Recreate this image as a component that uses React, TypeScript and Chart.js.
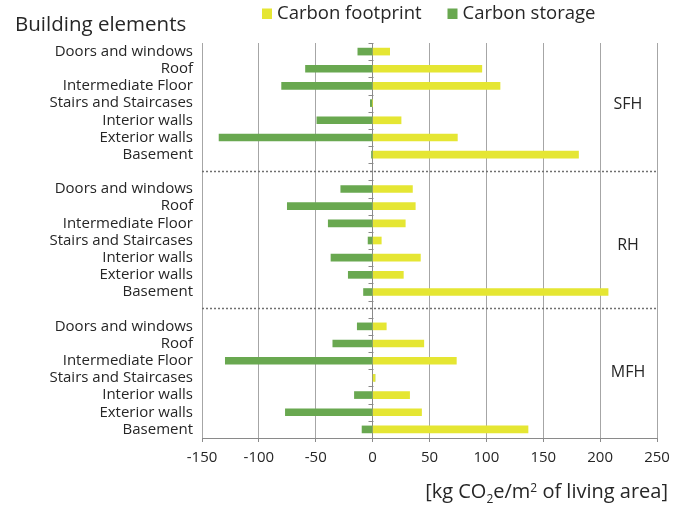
import React, { useEffect, useRef } from "react";
import { Chart, registerables } from "chart.js";

Chart.register(...registerables);

// ---- data ----
const elements = [
  "Doors and windows",
  "Roof",
  "Intermediate Floor",
  "Stairs and Staircases",
  "Interior walls",
  "Exterior walls",
  "Basement",
];
const groupNames = ["SFH", "RH", "MFH"];

const sfhFootprint = [15, 96, 112, 0, 25, 74.5, 181];
const sfhStorage = [-13, -59, -80, -2, -49, -135, -1];
const rhFootprint = [35, 37.5, 28.7, 7.6, 42, 27, 207];
const rhStorage = [-28, -75, -39, -4, -36.6, -21.4, -8];
const mfhFootprint = [12, 45, 73.6, 2, 32.5, 43, 136.6];
const mfhStorage = [-13.5, -35, -129.5, 0, -16, -76.7, -9.3];

const footprintGroups = [sfhFootprint, rhFootprint, mfhFootprint];
const storageGroups = [sfhStorage, rhStorage, mfhStorage];

const xMin = -150;
const xMax = 250;
const xStep = 50;

const legendLabels = ["Carbon footprint", "Carbon storage"];
const yTitle = "Building elements";
const xTitleParts = [
  { t: "[kg CO", k: "n" },
  { t: "2", k: "sub" },
  { t: "e/m", k: "n" },
  { t: "2", k: "sup" },
  { t: " of living area]", k: "n" },
];

// ---- build category table (a blank slot between groups) ----
const categories: string[] = [];
const footprint: (number | null)[] = [];
const storage: (number | null)[] = [];
const separatorIdx: number[] = [];
const groupMid: number[] = [];
groupNames.forEach((g, gi) => {
  const start = categories.length;
  elements.forEach((e, i) => {
    categories.push(e);
    footprint.push(footprintGroups[gi][i]);
    storage.push(storageGroups[gi][i]);
  });
  groupMid.push(start + (elements.length - 1) / 2);
  if (gi < groupNames.length - 1) {
    separatorIdx.push(categories.length);
    categories.push("");
    footprint.push(null);
    storage.push(null);
  }
});
const groupLabelShift = [0.1, 0.3, -0.3];

const YELLOW = "#e5e633";
const GREEN = "#69a850";
const FONT = "'Open Sans', 'DejaVu Sans', sans-serif";
const TEXT = "#262626";

const decoPlugin = {
  id: "deco",
  beforeDatasetsDraw(chart: any) {
    const { ctx, scales } = chart;
    const x = scales.x;
    const y = scales.y;
    const x0 = Math.round(x.getPixelForValue(0)) + 0.5;
    ctx.save();
    ctx.strokeStyle = "#8a8a8a";
    ctx.lineWidth = 1;
    const n = categories.length;
    for (let i = 0; i <= n; i++) {
      const py = Math.round(y.getPixelForValue(i - 0.5)) + 0.5;
      ctx.beginPath();
      ctx.moveTo(x0 - 5, py);
      ctx.lineTo(x0, py);
      ctx.stroke();
    }
    ctx.restore();
  },
  afterDraw(chart: any) {
    const { ctx, chartArea, scales } = chart;
    const y = scales.y;
    const { left, right } = chartArea;
    ctx.save();
    // separators
    ctx.strokeStyle = "#707070";
    ctx.lineWidth = 1.4;
    ctx.setLineDash([2, 2]);
    separatorIdx.forEach((i) => {
      const py = Math.round(y.getPixelForValue(i) - 1) + 0.5;
      ctx.beginPath();
      ctx.moveTo(left, py);
      ctx.lineTo(right, py);
      ctx.stroke();
    });
    ctx.setLineDash([]);

    // group labels
    ctx.fillStyle = TEXT;
    ctx.font = `16px ${FONT}`;
    ctx.textAlign = "center";
    ctx.textBaseline = "middle";
    groupNames.forEach((g, gi) => {
      const py = y.getPixelForValue(groupMid[gi] + groupLabelShift[gi]);
      ctx.fillText(g, 628, py);
    });

    // title
    ctx.textAlign = "left";
    ctx.textBaseline = "alphabetic";
    ctx.font = `20.5px ${FONT}`;
    ctx.fillText(yTitle, 15, 31);

    // legend
    ctx.font = `18.5px ${FONT}`;
    const legendX = [262, 447.5];
    const colors = [YELLOW, GREEN];
    legendLabels.forEach((lab, i) => {
      ctx.fillStyle = colors[i];
      ctx.fillRect(legendX[i], 8.5, 10, 10.5);
      ctx.fillStyle = TEXT;
      ctx.fillText(lab, legendX[i] + 15, 19);
    });

    // x axis title, right-aligned
    const big = `20px ${FONT}`;
    const small = `12px ${FONT}`;
    let total = 0;
    xTitleParts.forEach((p) => {
      ctx.font = p.k === "n" ? big : small;
      total += ctx.measureText(p.t).width;
    });
    let cx = 668 - total;
    const base = 498;
    xTitleParts.forEach((p) => {
      ctx.font = p.k === "n" ? big : small;
      const dy = p.k === "sub" ? 5 : p.k === "sup" ? -6 : 0;
      ctx.fillText(p.t, cx, base + dy);
      cx += ctx.measureText(p.t).width;
    });
    ctx.restore();
  },
};

export default function App() {
  const ref = useRef<HTMLCanvasElement | null>(null);
  useEffect(() => {
    if (!ref.current) return;
    const chart = new Chart(ref.current, {
      type: "bar",
      data: {
        labels: categories,
        datasets: [
          {
            label: legendLabels[0],
            data: footprint,
            backgroundColor: YELLOW,
            barThickness: 7,
          },
          {
            label: legendLabels[1],
            data: storage,
            backgroundColor: GREEN,
            barThickness: 7,
          },
        ],
      },
      options: {
        indexAxis: "y",
        responsive: false,
        animation: false,
        layout: { padding: { top: 43, right: 16, left: 0, bottom: 0 } },
        plugins: {
          legend: { display: false },
          tooltip: { enabled: false },
        },
        scales: {
          x: {
            type: "linear",
            stacked: true,
            min: xMin,
            max: xMax,
            ticks: {
              stepSize: xStep,
              font: { family: FONT, size: 15, lineHeight: 1.8 },
              color: TEXT,
              padding: 2,
            },
            grid: {
              color: (c: any) =>
                c.tick && c.tick.value === 0 ? "#8a8a8a" : "#a6a6a6",
              tickLength: 4,
              tickColor: "#8a8a8a",
            },
            border: { display: true, color: "#8a8a8a" },
            afterFit: (s: any) => {
              s.height = 67;
            },
          },
          y: {
            type: "category",
            stacked: true,
            grid: { display: false, drawTicks: false },
            border: { display: false },
            ticks: {
              font: { family: FONT, size: 15 },
              color: TEXT,
              padding: 9,
              autoSkip: false,
            },
            afterFit: (s: any) => {
              s.width = 202;
            },
          },
        },
      },
      plugins: [decoPlugin],
    });
    return () => chart.destroy();
  }, []);
  return (
    <div style={{ position: "absolute", left: 0, top: 0, width: 673, height: 505 }}>
      <canvas ref={ref} width={673} height={505} style={{ display: "block" }} />
    </div>
  );
}
